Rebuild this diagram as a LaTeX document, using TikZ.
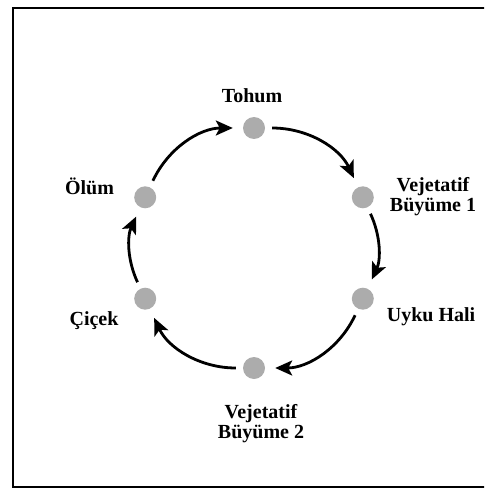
\documentclass[tikz,border=0pt]{standalone}
\usepackage{fontspec}
\setmainfont{Liberation Serif}
\usetikzlibrary{arrows.meta}
\begin{document}
\begin{tikzpicture}[x=1pt,y=-1pt,
  stage/.style={circle,fill=dotgray,draw=none,minimum size=22pt,inner sep=0pt},
  label/.style={inner sep=0pt,font=\bfseries\fontsize{20}{20}\selectfont},
  flow/.style={line width=2.8pt,shorten <=7pt,shorten >=10pt,
    -{Stealth[length=17pt,width=15pt,inset=4pt]}}]
\definecolor{dotgray}{RGB}{172,172,172}
\useasboundingbox (0,0) rectangle (484,489);
\clip (0,0) rectangle (484,489);
% outer frame
\draw[line width=2.2pt] (13,8) rectangle (495,487);
% stages of the cycle
\node[stage] (tohum) at (254,128) {};
\node[stage] (veg1)  at (362.8,197.3) {};
\node[stage] (uyku)  at (362.8,298.7) {};
\node[stage] (veg2)  at (254,368) {};
\node[stage] (cicek) at (145.2,298.7) {};
\node[stage] (olum)  at (145.2,197.3) {};
% stage names
\node[label,anchor=base] (tTohum) at (252,102.7) {Tohum};
\node[label,anchor=north,align=center] (tVeg1) at (433,177.3) {Vejetatif\\Büyüme 1};
\node[label,anchor=base] (tUyku) at (431,321) {Uyku Hali};
\node[label,anchor=north,align=center] (tVeg2) at (261,404.3) {Vejetatif\\Büyüme 2};
\node[label,anchor=base] (tCicek) at (94,325.5) {Çiçek};
\node[label,anchor=base] (tOlum) at (89.5,194) {Ölüm};
% clockwise arrows
\draw[flow] (tohum) to[bend left=32.5] (veg1);
\draw[flow] (veg1)  to[bend left=25]   (uyku);
\draw[flow] (uyku)  to[bend left=32.5] (veg2);
\draw[flow] (veg2)  to[bend left=32.5] (cicek);
\draw[flow] (cicek) to[bend left=25]   (olum);
\draw[flow] (olum)  to[bend left=32.5] (tohum);
\end{tikzpicture}
\end{document}
